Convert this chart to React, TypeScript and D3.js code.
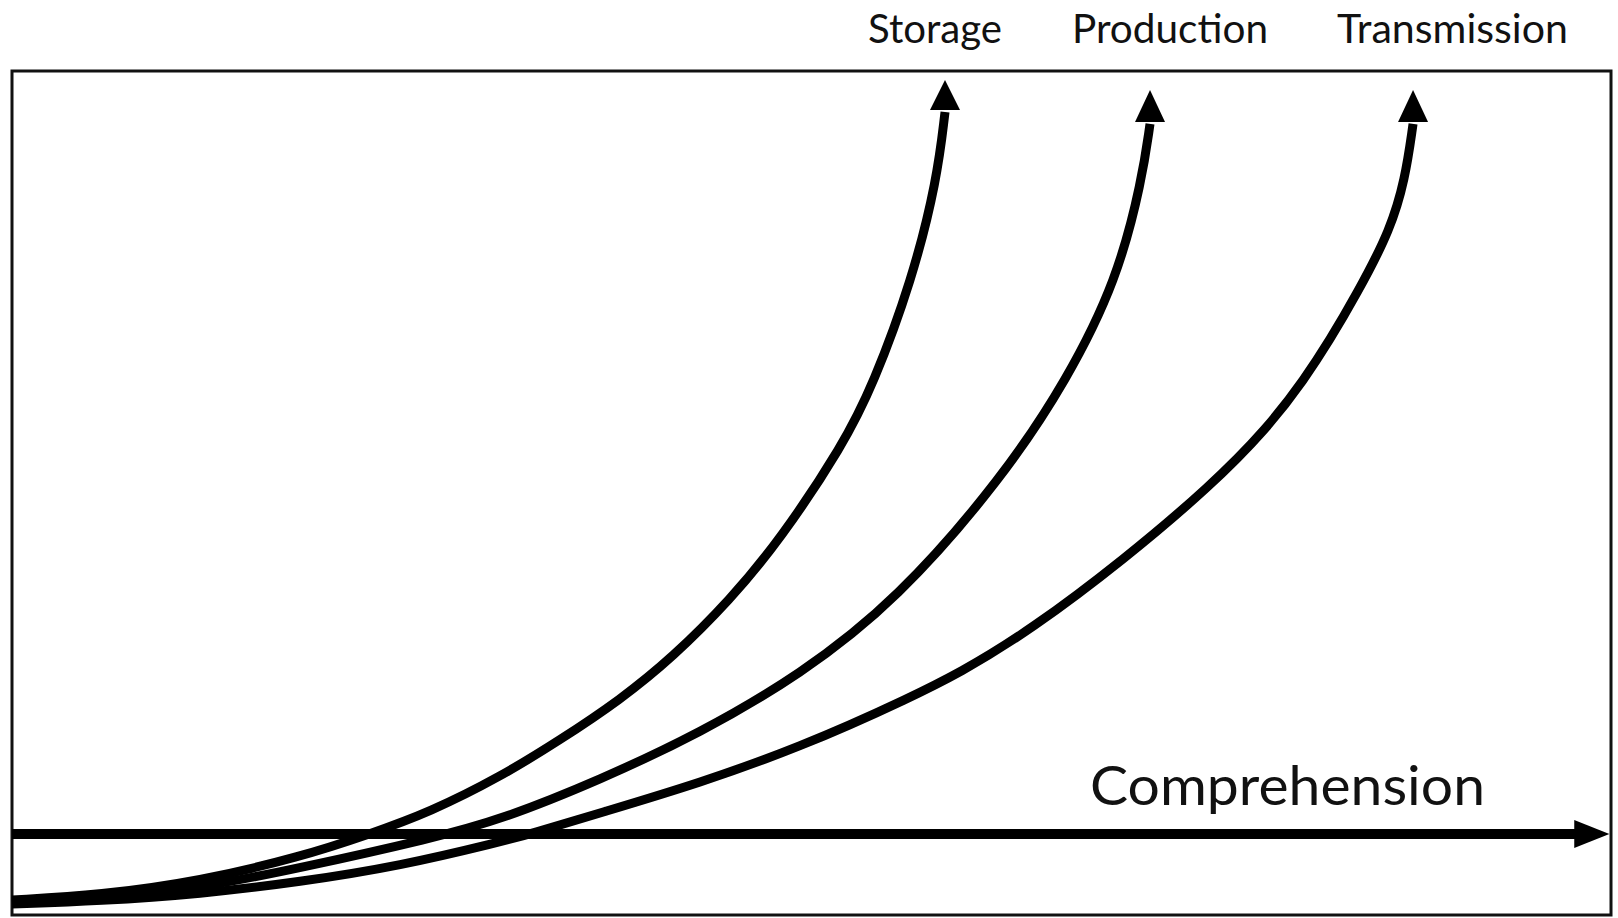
import React, { useRef, useEffect } from 'react';
import * as d3 from 'd3';

// curve samples, x and y on a 0-100 scale of the frame
const seriesNames = ['Storage', 'Production', 'Transmission'];

const storageX = [0, 5.5, 11.76, 18.01, 22.39, 26.14, 30.52, 34.27, 38.02, 41.34, 44.9, 48.03, 51.97, 53.85, 56.29, 57.85, 58.35, 58.35];
const storageY = [1.78, 2.37, 4.03, 6.87, 9.6, 12.2, 16.35, 20.73, 25.47, 30.57, 37.32, 44.43, 55.69, 62.8, 75.24, 87.09, 95.38, 98.93];

const productionX = [0, 5.5, 11.76, 18.01, 26.33, 30.52, 36.77, 43.03, 49.28, 55.35, 61.98, 65.98, 69.11, 70.67, 71.17, 71.17];
const productionY = [1.54, 2.01, 3.2, 5.57, 9.12, 11.26, 16.0, 21.56, 28.44, 37.32, 51.9, 63.39, 75.24, 87.09, 93.96, 97.75];

const transmissionX = [0, 5.5, 11.76, 18.01, 24.27, 30.52, 32.4, 36.77, 43.03, 49.28, 55.53, 63.04, 75.98, 80.99, 84.43, 86.18, 87.12, 87.62, 87.62];
const transmissionY = [1.3, 1.66, 2.49, 3.91, 5.81, 8.65, 9.6, 12.09, 15.64, 19.91, 25.12, 32.23, 51.9, 63.39, 74.64, 81.16, 87.09, 93.96, 97.75];

// horizontal reference arrow
const comprehensionLabel = 'Comprehension';
const comprehensionLevel = 9.6;
const comprehensionX = [0, 97.7, 99.9];

const W = 1618;
const H = 918;

const App: React.FC = () => {
  const ref = useRef<SVGSVGElement | null>(null);

  useEffect(() => {
    if (!ref.current) return;
    const svg = d3.select(ref.current);
    svg.selectAll('*').remove();

    const frame = { left: 12, top: 71, right: 1611, bottom: 915 };

    const x = d3.scaleLinear().domain([0, 100]).range([frame.left, frame.right]);
    const y = d3.scaleLinear().domain([0, 100]).range([frame.bottom, frame.top]);

    svg.append('rect').attr('width', W).attr('height', H).attr('fill', '#ffffff');

    svg
      .append('rect')
      .attr('x', frame.left)
      .attr('y', frame.top)
      .attr('width', frame.right - frame.left)
      .attr('height', frame.bottom - frame.top)
      .attr('fill', 'none')
      .attr('stroke', '#111')
      .attr('stroke-width', 3);

    const arrowHead = (p0: [number, number], p1: [number, number], half: number) => {
      const dx = p1[0] - p0[0];
      const dy = p1[1] - p0[1];
      const len = Math.hypot(dx, dy) || 1;
      const nx = -dy / len;
      const ny = dx / len;
      return `M${p1[0]},${p1[1]}L${p0[0] + nx * half},${p0[1] + ny * half}L${p0[0] - nx * half},${p0[1] - ny * half}Z`;
    };

    // comprehension arrow
    const cy = y(comprehensionLevel);
    const cBase: [number, number] = [x(comprehensionX[1]), cy];
    const cTip: [number, number] = [x(comprehensionX[2]), cy];
    svg
      .append('line')
      .attr('x1', x(comprehensionX[0]))
      .attr('x2', cBase[0] + 2)
      .attr('y1', cy)
      .attr('y2', cy)
      .attr('stroke', '#000')
      .attr('stroke-width', 10);
    svg.append('path').attr('d', arrowHead(cBase, cTip, 14)).attr('fill', '#000');

    svg
      .append('text')
      .attr('x', 1090)
      .attr('y', 805)
      .attr('font-family', 'Lato, "Open Sans", sans-serif')
      .attr('font-size', 55)
      .attr('textLength', 395)
      .attr('lengthAdjust', 'spacingAndGlyphs')
      .attr('fill', '#111')
      .text(comprehensionLabel);

    const series = [
      { xs: storageX, ys: storageY },
      { xs: productionX, ys: productionY },
      { xs: transmissionX, ys: transmissionY }
    ];

    // b-spline smooths out the small reading errors in the samples
    const line = d3
      .line<[number, number]>()
      .x(d => d[0])
      .y(d => d[1])
      .curve(d3.curveBasis);

    series.forEach(s => {
      const pts: [number, number][] = s.xs.map((v, i) => [x(v), y(s.ys[i])]);
      const tip = pts[pts.length - 1];
      const base = pts[pts.length - 2];
      const body = pts.slice(0, -1);
      // overlap the arrowhead a little so the joint is clean
      body[body.length - 1] = [base[0], base[1] + 2];
      svg
        .append('path')
        .attr('d', line(body) || '')
        .attr('fill', 'none')
        .attr('stroke', '#000')
        .attr('stroke-width', 9)
        .attr('stroke-linecap', 'butt');
      svg.append('path').attr('d', arrowHead(base, tip, 15)).attr('fill', '#000');
    });

    // labels above the frame
    const labelBox = [
      { left: 868, width: 134 },
      { left: 1072, width: 196 },
      { left: 1337, width: 231 }
    ];
    seriesNames.forEach((name, i) => {
      svg
        .append('text')
        .attr('x', labelBox[i].left)
        .attr('y', 43)
        .attr('font-family', 'Lato, "Open Sans", sans-serif')
        .attr('font-size', 41)
        .attr('textLength', labelBox[i].width)
        .attr('lengthAdjust', 'spacingAndGlyphs')
        .attr('fill', '#111')
        .text(name);
    });
  }, []);

  return (
    <svg
      ref={ref}
      width={W}
      height={H}
      viewBox={`0 0 ${W} ${H}`}
      style={{ position: 'absolute', left: 0, top: 0, display: 'block' }}
    />
  );
};

export default App;
